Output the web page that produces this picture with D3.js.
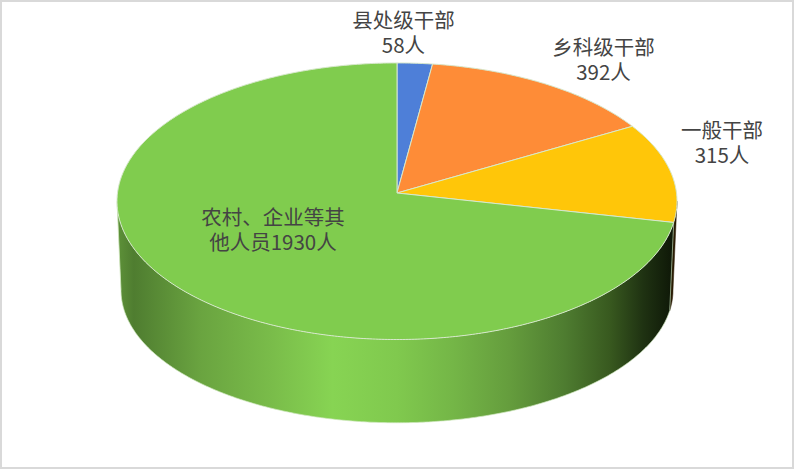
<!DOCTYPE html>
<html>
<head>
<meta charset="utf-8">
<script src="https://cdn.jsdelivr.net/npm/d3@7/dist/d3.min.js"></script>
<style>
html,body{margin:0;padding:0;background:#fff;overflow:hidden}
svg{display:block}
text{font-family:"Noto Sans CJK SC","Noto Sans",sans-serif;font-size:20.5px;fill:#444}
</style>
</head>
<body>
<svg id="c" width="794" height="469"></svg>
<script>
const categories = ["县处级干部","乡科级干部","一般干部","农村、企业等其他人员"];
const values = [58,392,315,1930];
const labelLines = [["县处级干部","58人"],["乡科级干部","392人"],["一般干部","315人"],["农村、企业等其","他人员1930人"]];
const colors = ["#4e7fd8","#fe8c37","#ffc609","#80cc4e"];
const labelAnchors = [[403.5,28],[603.5,55],[722,138],[273,225]];
const sideStops = [[0,"#5e9239"],[0.03,"#4f7d30"],[0.15,"#6aa440"],[0.28,"#7abd4a"],[0.385,"#87d453"],[0.5,"#80c94e"],[0.6,"#74b647"],[0.7,"#659d3d"],[0.8,"#4e7c30"],[0.88,"#38591f"],[0.94,"#1f3212"],[1,"#0c1406"]];

const W=794,H=469,cx=397,k=0.0595;
const svg=d3.select("#c");
svg.append("rect").attr("x",1).attr("y",1).attr("width",W-2).attr("height",H-2)
  .attr("fill","#fff").attr("stroke","#d9d9d9").attr("stroke-width",2);

const defs=svg.append("defs");
const lg=defs.append("linearGradient").attr("id","sideG").attr("gradientUnits","userSpaceOnUse")
  .attr("x1",117).attr("x2",677).attr("y1",0).attr("y2",0);
sideStops.forEach(s=>lg.append("stop").attr("offset",s[0]).attr("stop-color",s[1]));

// perspective projection of a flat disc: top face and bottom face
const proj=(R,y0,b)=>a=>{
  const u=Math.sin(a),v=-Math.cos(a),w=1-k*v;
  return [cx+R*u/w,y0+b*v/w];
};
const topP=proj(279.5,193,137.8), botP=proj(275.5,282.4,132);
const pathLine=d3.line();
const samples=(a0,a1)=>{const n=Math.max(2,Math.ceil((a1-a0)/0.01));return d3.range(n+1).map(i=>a0+(a1-a0)*i/n);};

const arcs=d3.pie().sort(null)(values);
const rim=Math.acos(-k); // silhouette angle

const sideG=svg.append("g");
arcs.forEach((d,i)=>{
  const a0=Math.max(d.startAngle,rim),a1=Math.min(d.endAngle,2*Math.PI-rim);
  if(a1<=a0) return;
  const as=samples(a0,a1);
  const pts=as.map(topP).concat(as.slice().reverse().map(botP));
  sideG.append("path").attr("d",pathLine(pts)+"Z")
    .attr("fill",i===3?"url(#sideG)":"#2a1c04")
    .attr("stroke",i===3?"none":"#2a1c04").attr("stroke-width",0.5);
  if(i===3){
    sideG.append("path").attr("d",pathLine(as.map(botP))).attr("fill","none").attr("stroke","#cfe6bd").attr("stroke-width",0.7);
    sideG.append("path").attr("d",pathLine([topP(a0),botP(a0)])).attr("fill","none").attr("stroke","#9fb896").attr("stroke-width",0.8);
    sideG.append("path").attr("d",pathLine([topP(a1),botP(a1)])).attr("fill","none").attr("stroke","#cfe6bd").attr("stroke-width",0.8);
  }
});

const topG=svg.append("g");
arcs.forEach((d,i)=>{
  const pts=[[cx,193]].concat(samples(d.startAngle,d.endAngle).map(topP));
  topG.append("path").attr("d",pathLine(pts)+"Z").attr("fill",colors[i])
    .attr("stroke","#d7e8cc").attr("stroke-width",1).attr("stroke-linejoin","round");
});

labelLines.forEach((ls,i)=>{
  const t=svg.append("text").attr("text-anchor","middle");
  ls.forEach((s,j)=>t.append("tspan").attr("x",labelAnchors[i][0]).attr("y",labelAnchors[i][1]+j*25).text(s));
});
</script>
</body>
</html>
